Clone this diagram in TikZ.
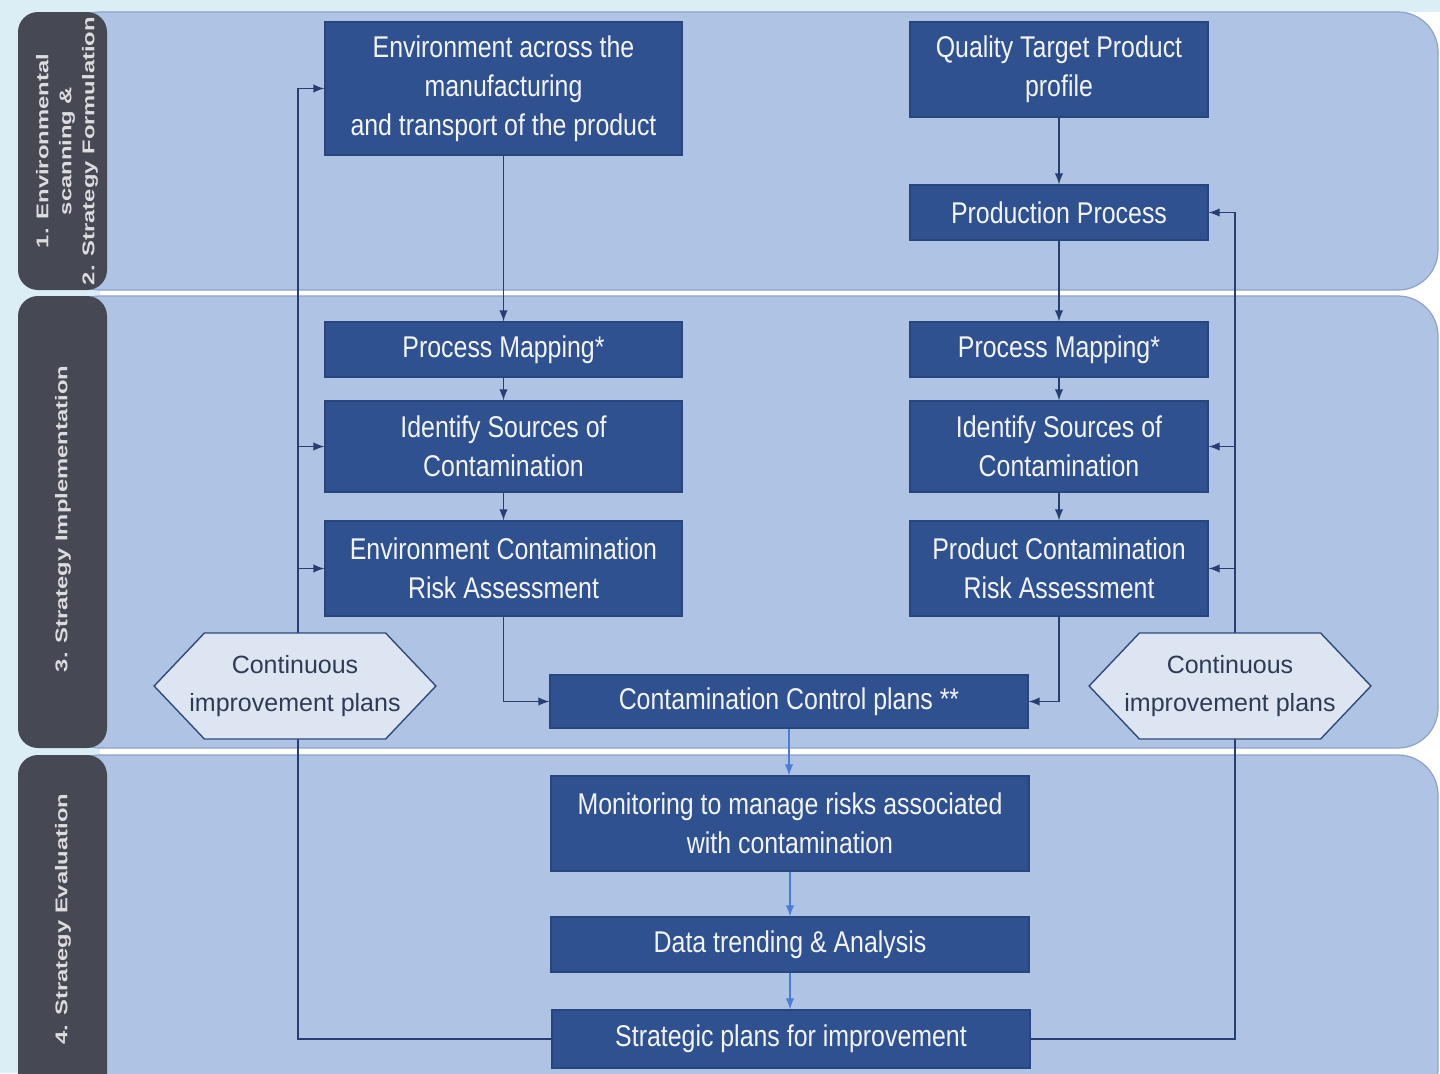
\documentclass[tikz,border=0pt]{standalone}
\usepackage{fontspec}
\setmainfont{Liberation Sans}
\newfontfamily\boxfont[FakeStretch=0.83]{Liberation Sans}
\newfontfamily\tabfont[FakeStretch=1.4]{Liberation Sans}
\usetikzlibrary{positioning,arrows,shapes.symbols}
\definecolor{pagebg}{HTML}{DCEEF5}
\definecolor{bandfill}{HTML}{AFC3E4}
\definecolor{bandline}{HTML}{8DA2C6}
\definecolor{tabfill}{HTML}{464853}
\definecolor{tabtext}{HTML}{DCDCE0}
\definecolor{boxblue}{HTML}{2F5190}
\definecolor{boxline}{HTML}{29457E}
\definecolor{boxtext}{HTML}{F2F4F8}
\definecolor{linedark}{HTML}{263F70}
\definecolor{flowblue}{HTML}{4A7ED6}
\definecolor{hexfill}{HTML}{DDE5F3}
\definecolor{hexline}{HTML}{2F4A7A}
\definecolor{hextext}{HTML}{2F3B55}
\tikzset{
	every picture/.style={x=0.5pt, y=-0.5pt},
	>=latex,
	band/.style={fill=bandfill, draw=bandline, line width=0.6pt, rounded corners=20pt},
	tab/.style={fill=tabfill, rounded corners=10pt},
	tablabel/.style={rotate=90, align=center, text=tabtext, font=\tabfont\bfseries\fontsize{8.5pt}{11.5pt}\selectfont},
	stepbox/.style={draw=boxline, fill=boxblue, text=boxtext, align=center, inner sep=0pt, line width=0.6pt,
		font=\boxfont\fontsize{15pt}{19.5pt}\selectfont},
	widebox/.style={stepbox, minimum width=178.5pt},
	narrowbox/.style={stepbox, minimum width=149pt},
	flowbox/.style={stepbox, minimum width=239pt},
	cipbox/.style={signal, signal to=west and east, signal pointer angle=93, draw=hexline, fill=hexfill,
		line width=0.7pt, minimum height=53pt, inner xsep=-7.5pt, inner ysep=0pt, align=center, text=hextext,
		font=\fontsize{12.5pt}{19pt}\selectfont},
	conn/.style={draw=linedark, line width=0.9pt, ->},
	flow/.style={draw=flowblue, line width=0.9pt, ->}
}
\begin{document}
\begin{tikzpicture}
	\useasboundingbox (0,0) rectangle (1440,1073);
	\clip (0,0) rectangle (1440,1073);
	\fill[pagebg] (0,0) rectangle (1440,1073);
	\fill[white] (100,12) rectangle (1440,1073);

	\draw[band] (60,12) rectangle (1438,290);
	\draw[band] (60,296) rectangle (1438,748);
	\draw[band] (60,755) rectangle (1438,1110);

	\fill[tab] (18,12) rectangle (107,290);
	\fill[tab] (18,296) rectangle (107,748);
	\fill[tab] (18,755) rectangle (107,1100);

	\node(scan)[tablabel] at (67,151) {1. Environmental\\scanning \&\\2. Strategy Formulation};
	\node(impl)[tablabel] at (63,519) {3. Strategy Implementation};
	\node(eval)[tablabel] at (63,919) {4. Strategy Evaluation};

	\node(env)[widebox, minimum height=66.5pt] at (503.5,88.5) {Environment across the\\manufacturing\\and transport of the product};
	\node(target)[narrowbox, minimum height=47.5pt] at (1059,69.5) {Quality Target Product\\profile};
	\node(prod)[narrowbox, minimum height=27.5pt] at (1059,212.5) {Production Process};

	\node(mapL)[widebox, minimum height=27.5pt] at (503.5,349.5) {Process Mapping*};
	\node(srcL)[widebox, minimum height=45.5pt] at (503.5,446.5) {Identify Sources of\\Contamination};
	\node(riskL)[widebox, minimum height=47.5pt] at (503.5,568.5) {Environment Contamination\\Risk Assessment};
	\node(mapR)[narrowbox, minimum height=27.5pt] at (1059,349.5) {Process Mapping*};
	\node(srcR)[narrowbox, minimum height=45.5pt] at (1059,446.5) {Identify Sources of\\Contamination};
	\node(riskR)[narrowbox, minimum height=47.5pt] at (1059,568.5) {Product Contamination\\Risk Assessment};
	\node(ccp)[flowbox, minimum height=26.5pt] at (789,701.5) {Contamination Control plans **};

	\node(monitor)[flowbox, minimum height=47.5pt] at (790,823.5) {Monitoring to manage risks associated\\with contamination};
	\node(trend)[flowbox, minimum height=27.5pt] at (790,944.5) {Data trending \& Analysis};
	\node(strat)[flowbox, minimum height=29pt] at (791,1039) {Strategic plans for improvement};

	\coordinate(Lx) at (298,0);
	\coordinate(Rx) at (1235,0);

	\draw[conn] (env.south) -- (mapL.north);
	\draw[conn] (mapL.south) -- (srcL.north);
	\draw[conn] (srcL.south) -- (riskL.north);
	\draw[conn] (riskL.south) |- (ccp.west);
	\draw[conn] (target.south) -- (prod.north);
	\draw[conn] (prod.south) -- (mapR.north);
	\draw[conn] (mapR.south) -- (srcR.north);
	\draw[conn] (srcR.south) -- (riskR.north);
	\draw[conn] (riskR.south) |- (ccp.east);

	\draw[flow] (ccp.south) -- (ccp.south |- monitor.north);
	\draw[flow] (monitor.south) -- (trend.north);
	\draw[flow] (trend.south) -- (trend.south |- strat.north);

	\draw[conn] (strat.west) -| (Lx |- env.west) -- (env.west);
	\draw[conn] (Lx |- srcL.west) -- (srcL.west);
	\draw[conn] (Lx |- riskL.west) -- (riskL.west);
	\draw[conn] (strat.east) -| (Rx |- prod.east) -- (prod.east);
	\draw[conn] (Rx |- srcR.east) -- (srcR.east);
	\draw[conn] (Rx |- riskR.east) -- (riskR.east);

	\node(cipL)[cipbox] at (295,686) {Continuous\\improvement plans};
	\node(cipR)[cipbox] at (1230,686) {Continuous\\improvement plans};
\end{tikzpicture}
\end{document}
